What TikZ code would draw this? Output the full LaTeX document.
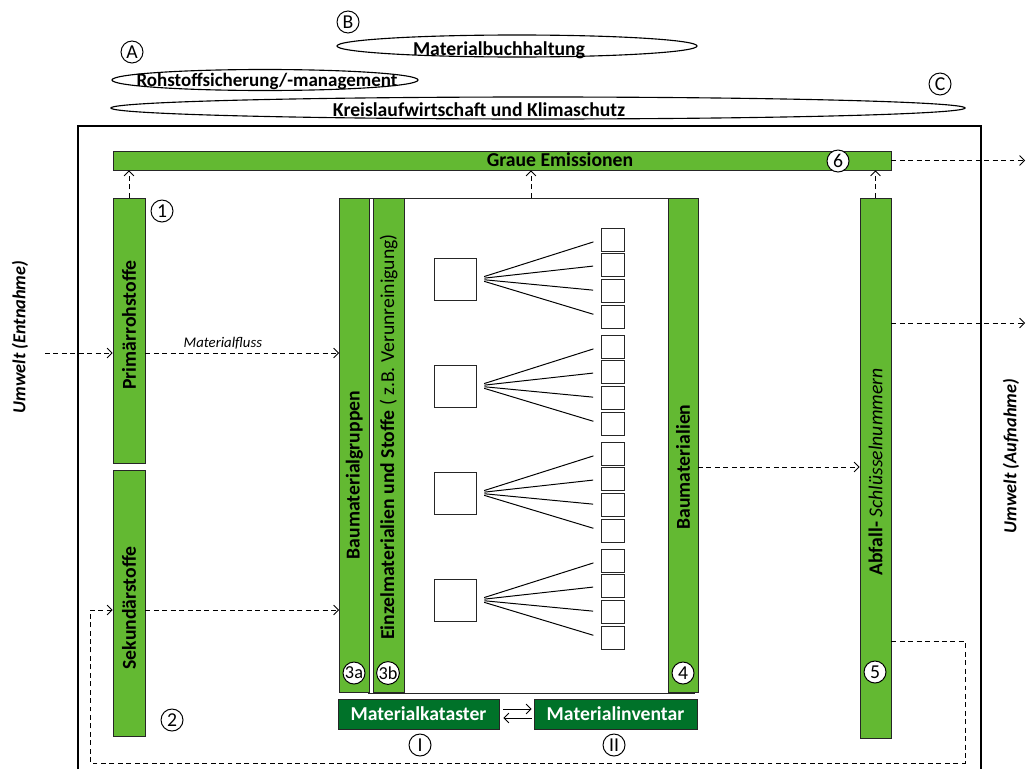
\documentclass[tikz,border=0pt]{standalone}
\usepackage{fontspec}
\setmainfont{Carlito}
\usepackage{tikz}
\usetikzlibrary{arrows.meta}
\usetikzlibrary{shapes.geometric}
\definecolor{hellgruen}{RGB}{99,185,50}
\definecolor{dunkelgruen}{RGB}{0,114,41}
\def\u{0.025cm}

\begin{document}
\begin{tikzpicture}[x=0.025cm,y=-0.025cm,
    balken/.style 2 args={draw=black!85,fill=hellgruen,line width=0.6pt,inner sep=0pt,
      minimum width=#1*\u,minimum height=#2*\u},
    katbox/.style={draw=black!85,fill=dunkelgruen,text=white,line width=0.6pt,inner sep=0pt,
      minimum width=#1*\u,minimum height=30*\u,font=\fontsize{14}{16}\selectfont\bfseries},
    oval/.style 2 args={ellipse,draw,line width=0.8pt,inner sep=0pt,
      minimum width=#1*\u,minimum height=#2*\u},
    titel/.style={font=\fontsize{14}{16}\selectfont\bfseries},
    nr/.style={circle,draw,fill=white,line width=0.7pt,inner sep=0pt,minimum size=22*\u,
      font=\fontsize{14}{14}\selectfont},
    fluss/.style={dashed,dash pattern=on 3.5pt off 2.5pt,line width=0.6pt,
      -{Straight Barb[length=3.5pt,width=7pt]}},
    quad/.style={draw=black!85,line width=0.7pt,inner sep=0pt,minimum size=#1*\u}]

        \useasboundingbox (0,0) rectangle (1031,769);

        %------------------
        % 楕円（上）
        %------------------

        \node[oval={360}{22}] (buch) at (517,46) {};
        \node[titel] at (499,50) {Materialbuchhaltung};
        \node[oval={306}{21}] (rohst) at (265,80) {};
        \node[titel,font=\fontsize{13.5}{16}\selectfont\bfseries] at (267,81.5) {Rohstoffsicherung/-management};
        \node[oval={854}{22}] (kreis) at (538,108) {};
        \node[titel] at (479,110) {Kreislaufwirtschaft und Klimaschutz};

        \node[nr] (nA) at (132,52) {A};
        \node[nr] (nB) at (348,22) {B};
        \node[nr] (nC) at (940,84) {C};

        % Systemgrenze
        \draw[line width=1.6pt] (78,769) -- (78,126) -- (981,126) -- (981,769);

        %------------------
        % Balken
        %------------------

        \node[balken={778}{19}] (graue) at (502,160.5) {};
        \node[titel] at (560,160) {Graue Emissionen};

        \node[draw=black!85,fill=white,line width=0.6pt,inner sep=0pt,
          minimum width=326*\u,minimum height=495*\u] (kasten) at (531,445.5) {};

        \node[balken={32}{265}] (prim) at (129,330.5) {};
        \node[balken={32}{266}] (sek) at (129,603.5) {};
        \node[balken={30}{494}] (gruppen) at (354.5,445) {};
        \node[balken={31}{494}] (einzel) at (388.5,445) {};
        \node[balken={30}{494}] (baum) at (683,445) {};
        \node[balken={31}{540}] (abfall) at (875.5,468) {};

        \node[titel,rotate=90] at (129,325) {Primärrohstoffe};
        \node[titel,rotate=90] at (129,608) {Sekundärstoffe};
        \node[titel,rotate=90] at (354.5,475) {Baumaterialgruppen};
        \node[titel,rotate=90] at (388.5,437) {Einzelmaterialien und Stoffe\mdseries{} ( z.B. Verunreinigung)};
        \node[titel,rotate=90] at (683,467) {Baumaterialien};
        \node[titel,rotate=90] at (875.5,472) {Abfall- \mdseries\itshape Schlüsselnummern};

        \node[katbox=161] (kat) at (418.5,714) {Materialkataster};
        \node[katbox=163] (inv) at (615.5,714) {Materialinventar};

        %------------------
        % Quadrate
        %------------------

        \foreach \g in {0,1,2,3}{
          \node[quad=42] (m\g) at (455,{279+107*\g}) {};
          \foreach \i in {0,1,2,3}{
            \node[quad=23] (s\g\i) at (613,{239.5+107*\g+25.7*\i}) {};
            \draw[line width=0.7pt,shorten <=8*\u,shorten >=8*\u] (m\g.east) -- (s\g\i.west);
          }
        }

        %------------------
        % Nummern
        %------------------

        \node[nr] (n1) at (162,211) {1};
        \node[nr] (n2) at (172,720) {2};
        \node[nr,font=\fontsize{13}{13}\selectfont] (n3a) at (354,673) {3a};
        \node[nr,font=\fontsize{13}{13}\selectfont] (n3b) at (388,673) {3b};
        \node[nr] (n4) at (683,673) {4};
        \node[nr] (n5) at (875,672) {5};
        \node[nr] (n6) at (838,161) {6};
        \node[nr] (nI) at (420,745) {I};
        \node[nr] (nII) at (614,745) {II};

        %------------------
        % Pfeile
        %------------------

        \coordinate (ein) at (45,353);
        \coordinate (aus1) at (1025,160.5);
        \coordinate (aus2) at (1025,323);
        \coordinate (sekpfeil) at (90,610);
        \coordinate (baupfeil) at (698,467);
        \coordinate (r1) at (965,641);
        \coordinate (r2) at (965,763);

        \draw[fluss] (ein) -- (ein -| prim.west);
        \draw[fluss] (ein -| prim.east) -- (ein -| gruppen.west)
          node[pos=0.4,above=-1pt,font=\fontsize{10.5}{12}\selectfont\itshape] {Materialfluss};
        \draw[fluss] (sekpfeil -| sek.east) -- (sekpfeil -| gruppen.west);
        \draw[fluss] (baupfeil) -- (baupfeil -| abfall.west);
        \draw[fluss] (aus2 -| abfall.east) -- (aus2);
        \draw[fluss] (graue.east) -- (aus1);
        \draw[fluss] (prim.north) -- (prim.north |- graue.south);
        \draw[fluss] (kasten.north) -- (kasten.north |- graue.south);
        \draw[fluss] (abfall.north) -- (abfall.north |- graue.south);
        \draw[fluss] (r1 -| abfall.east) -- (r1) -- (r2) -| (sekpfeil) -- (sekpfeil -| sek.west);

        % Kataster <-> Inventar
        \draw[line width=0.6pt,-{Straight Barb[length=3.5pt,width=7pt]}]
          ([xshift=4*\u,yshift=5*\u]kat.east) -- ([xshift=-2*\u,yshift=5*\u]inv.west);
        \draw[line width=0.6pt,-{Straight Barb[length=3.5pt,width=7pt]}]
          ([xshift=-2*\u,yshift=-4*\u]inv.west) -- ([xshift=4*\u,yshift=-4*\u]kat.east);

        % Umwelt
        \node[rotate=90,font=\fontsize{13}{15}\selectfont\bfseries\itshape] (entn) at (20,337) {Umwelt (Entnahme)};
        \node[rotate=90,font=\fontsize{13}{15}\selectfont\bfseries\itshape] (aufn) at (1011,456) {Umwelt (Aufnahme)};
      \end{tikzpicture}
\end{document}
